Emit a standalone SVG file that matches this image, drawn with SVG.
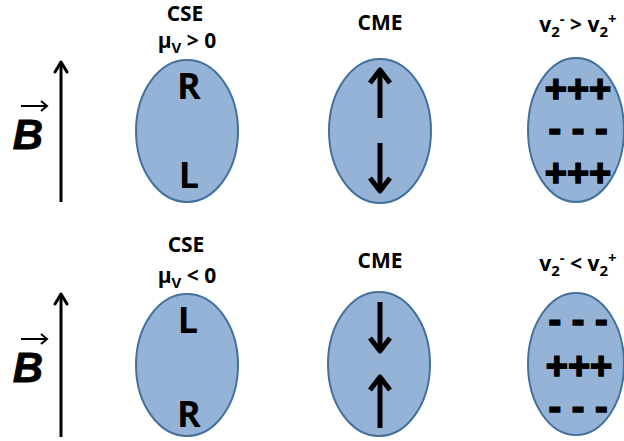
<svg xmlns="http://www.w3.org/2000/svg" width="624" height="441" viewBox="0 0 624 441">
<style>
.ell{fill:#95b3d7;stroke:#41719c;stroke-width:2}
.lbl{font-family:"Open Sans","Liberation Sans",sans-serif;font-weight:bold;font-size:21px;fill:#000;text-anchor:middle}
.big{font-family:"Open Sans","Liberation Sans",sans-serif;font-weight:bold;font-size:36px;fill:#000;text-anchor:middle}
.pm{font-family:"Liberation Sans",Arial,sans-serif;font-weight:bold;font-size:38px;fill:#000;stroke:#000;stroke-width:1.5;text-anchor:middle}
.bvec{font-family:"Liberation Sans",Arial,sans-serif;font-weight:bold;font-style:italic;font-size:42px;fill:#000;stroke:#000;stroke-width:0.8;text-anchor:middle}
.ax{stroke:#000;stroke-width:3;fill:none}
.ah{stroke:#000;stroke-width:3;fill:none;stroke-linecap:round;stroke-linejoin:round}
.cm{stroke:#000;stroke-width:5;fill:none;stroke-linejoin:round}
.vec{stroke:#000;stroke-width:2;fill:none}
</style>
<rect width="624" height="441" fill="#fff"/>
<g id="connectors">
  <line class="ax" x1="61" y1="63" x2="61" y2="202"/>
  <polyline class="ah" points="55,72 61,62 67,72"/>
  <line class="ax" x1="61" y1="295" x2="61" y2="437"/>
  <polyline class="ah" points="55,304 61,294 67,304"/>
</g>
<g id="b-top">
  <text class="bvec" x="28" y="149">B</text>
  <line class="vec" x1="21" y1="106" x2="47" y2="106"/>
  <polyline class="vec" points="41,101 47,106 41,111"/>
</g>
<g id="b-bottom">
  <text class="bvec" x="28" y="382">B</text>
  <line class="vec" x1="21" y1="339" x2="47" y2="339"/>
  <polyline class="vec" points="41,334 47,339 41,344"/>
</g>
<g id="cse-top">
  <text class="lbl" x="185" y="21">CSE</text>
  <text class="lbl" x="187" y="48">μ<tspan font-size="15" dy="5">V</tspan><tspan dy="-5"> &gt; 0</tspan></text>
  <ellipse class="ell" cx="187" cy="131" rx="51" ry="71"/>
  <text class="big" x="189" y="99">R</text>
  <text class="big" x="189" y="188">L</text>
</g>
<g id="cme-top">
  <text class="lbl" x="380" y="30">CME</text>
  <ellipse class="ell" cx="380" cy="131" rx="51" ry="72"/>
  <line class="cm" x1="380" y1="71" x2="380" y2="118"/>
  <polyline class="cm" points="370,83 380,70 390,83"/>
  <line class="cm" x1="380" y1="143" x2="380" y2="190"/>
  <polyline class="cm" points="370,178 380,191 390,178"/>
</g>
<g id="v2-top">
  <text class="lbl" x="578" y="32">v<tspan font-size="15" dy="5">2</tspan><tspan font-size="15" dy="-13">-</tspan><tspan dy="8"> &gt; v</tspan><tspan font-size="15" dy="5">2</tspan><tspan font-size="15" dy="-13">+</tspan></text>
  <ellipse class="ell" cx="576" cy="130" rx="48" ry="72"/>
  <text class="pm" x="578" y="102">+++</text>
  <text class="pm" x="578" y="142">- - -</text>
  <text class="pm" x="578" y="186">+++</text>
</g>
<g id="cse-bottom">
  <text class="lbl" x="186" y="252">CSE</text>
  <text class="lbl" x="187" y="283">μ<tspan font-size="15" dy="5">V</tspan><tspan dy="-5"> &lt; 0</tspan></text>
  <ellipse class="ell" cx="187" cy="365" rx="51" ry="71"/>
  <text class="big" x="188" y="333">L</text>
  <text class="big" x="189" y="427">R</text>
</g>
<g id="cme-bottom">
  <text class="lbl" x="380" y="268">CME</text>
  <ellipse class="ell" cx="379" cy="364" rx="51" ry="72"/>
  <line class="cm" x1="380" y1="302" x2="380" y2="349"/>
  <polyline class="cm" points="370,338 380,351 390,338"/>
  <line class="cm" x1="380" y1="380" x2="380" y2="428"/>
  <polyline class="cm" points="370,390 380,377 390,390"/>
</g>
<g id="v2-bottom">
  <text class="lbl" x="578" y="271">v<tspan font-size="15" dy="5">2</tspan><tspan font-size="15" dy="-13">-</tspan><tspan dy="8"> &lt; v</tspan><tspan font-size="15" dy="5">2</tspan><tspan font-size="15" dy="-13">+</tspan></text>
  <ellipse class="ell" cx="576" cy="364" rx="48" ry="71"/>
  <text class="pm" x="578" y="333">- - -</text>
  <text class="pm" x="579" y="379">+++</text>
  <text class="pm" x="578" y="420">- - -</text>
</g>
</svg>
